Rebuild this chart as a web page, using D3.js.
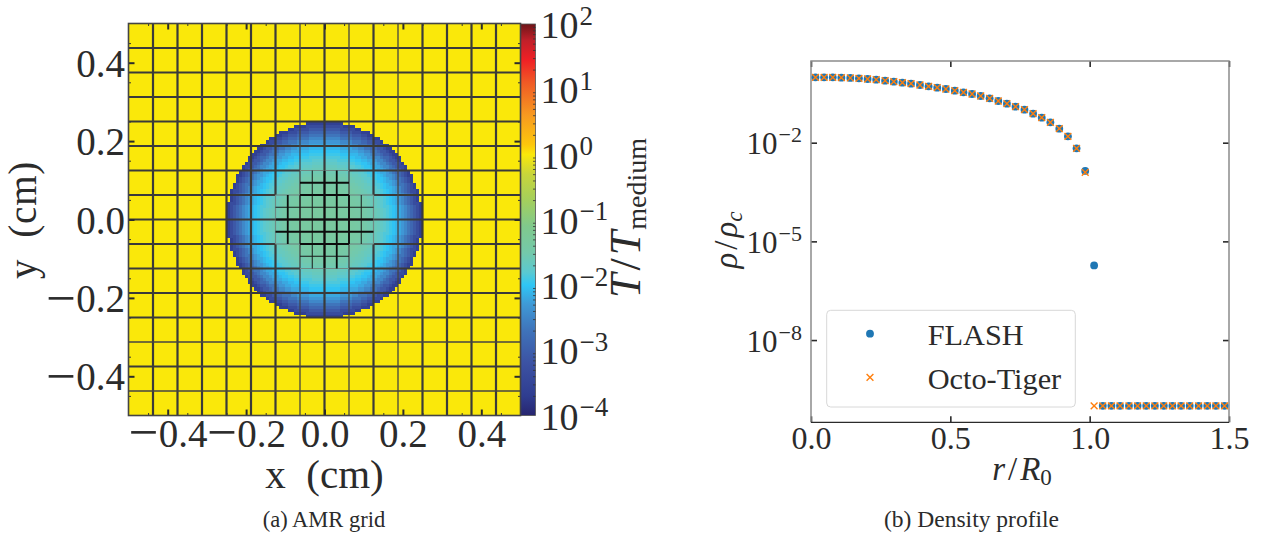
<!DOCTYPE html>
<html><head><meta charset="utf-8">
<script src="https://cdn.jsdelivr.net/npm/d3@7"></script>
<style>
html,body{margin:0;padding:0;background:#fff;overflow:hidden}
text{font-family:"Liberation Serif",serif;fill:#2b2b2b}
</style></head><body>
<svg id="c" width="1262" height="538" xmlns="http://www.w3.org/2000/svg"></svg>
<script>
// ---------- left panel data ----------
const fieldCells = 128;
const ambientLogT = 0;
// log10(T/Tmedium) per radial bin of width 1/128 cm
const radialLogT = [-1.35,-1.35,-1.35,-1.35,-1.35,-1.36,-1.36,-1.37,-1.38,-1.39,-1.41,-1.43,-1.45,-1.48,-1.52,-1.56,
                    -1.61,-1.66,-1.72,-1.79,-1.86,-1.94,-2.02,-2.10,-2.20,-2.32,-2.48,-2.68,-2.88,-3.10,-3.34,-3.62];
const sphereRadius = 0.25;
const colorLog = [-4,-3.7,-3.2,-2.7,-2.3,-2.0,-1.8,-1.5,-1.1,-0.7,-0.3,0,0.15,0.6,1.1,1.45,1.75,2];
const colorHex = ["#27256f","#2f3d90","#3c52a3","#3f73ba","#3f99d6","#2fc6f5","#5bc9d0","#74c9aa","#80c98c","#a4cf5c","#c8d53a","#fae80a","#fdc70c","#f79a20","#f05a25","#ef2025","#c0202a","#6e1518"];
const xyTicks = [-0.4,-0.2,0,0.2,0.4];
const xyMinor = [-0.45,-0.35,-0.25,-0.15,-0.05,0.05,0.15,0.25,0.35,0.45];
const cbarExponents = [-4,-3,-2,-1,0,1,2];
const cbarMinorMultiples = [2,3,4,5,6,7,8,9];
// AMR block edges in cm: [position, start, end]
const vEdgesThick = [[-0.4375,-0.5,0.5],[-0.375,-0.5,0.5],[-0.3125,-0.5,0.5],[-0.25,-0.5,0.5],[-0.1875,-0.5,0.5],[-0.125,-0.5,-0.0625],[-0.125,0.0625,0.5],[0,-0.5,0.5],[0.125,-0.5,-0.0625],[0.125,0.0625,0.5],[0.25,-0.5,0.5],[0.3125,-0.5,0.5],[0.375,-0.5,0.5],[0.4375,-0.5,0.5]];
const vEdgesThin = [[-0.0625,-0.5,0.5],[0.0625,-0.5,0.5],[0.1875,-0.5,0.5]];
const hEdgesThick = [[-0.375,-0.5,0.5],[-0.25,-0.5,0.5],[-0.1875,-0.5,0.5],[-0.125,-0.5,-0.0625],[-0.125,0.0625,0.5],[-0.0625,-0.5,-0.125],[-0.0625,0.125,0.5],[0,-0.5,0.5],[0.0625,-0.5,-0.125],[0.0625,0.125,0.5],[0.125,-0.5,-0.0625],[0.125,0.0625,0.5],[0.1875,-0.5,0.5],[0.25,-0.5,0.5],[0.3125,-0.5,0.5],[0.375,-0.5,0.5],[0.4375,-0.5,0.5]];
const hEdgesThin = [[-0.4375,-0.5,0.5],[-0.3125,-0.5,0.5]];
const vEdgesFaint = [[-0.125,-0.0625,0.0625],[0.125,-0.0625,0.0625]];
const hEdgesFaint = [[-0.125,-0.0625,0.0625],[0.125,-0.0625,0.0625],[-0.0625,-0.125,-0.0625],[-0.0625,0.0625,0.125],[0.0625,-0.125,-0.0625],[0.0625,0.0625,0.125]];
const vEdgesFineThick = [[-0.09375,-0.0625,0.0625],[0,-0.125,0.125],[0.0625,-0.0625,0.0625],[0.03125,-0.125,0.125]];
const vEdgesFineThin = [[-0.0625,-0.0625,0.0625],[-0.03125,-0.125,0.125],[0.09375,-0.0625,0.0625]];
const hEdgesFineThick = [[0.09375,-0.0625,0.0625],[0,-0.125,0.125],[0.0625,-0.0625,0.0625],[-0.0625,-0.0625,0.0625],[-0.03125,-0.125,0.125]];
const hEdgesFineThin = [[0.03125,-0.125,0.125],[-0.09375,-0.0625,0.0625]];

// ---------- right panel data ----------
const radius = [0.016,0.047,0.078,0.109,0.141,0.172,0.203,0.234,0.266,0.297,0.328,0.359,0.391,0.422,0.453,0.484,0.516,0.547,0.578,0.609,0.641,0.672,0.703,0.734,0.766,0.797,0.828,0.859,0.891,0.922,0.953,0.984,1.016,1.047,1.078,1.109,1.141,1.172,1.203,1.234,1.266,1.297,1.328,1.359,1.391,1.422,1.453,1.484];
const flashLogRho = [-0.013,-0.013,-0.013,-0.023,-0.033,-0.043,-0.064,-0.084,-0.115,-0.145,-0.175,-0.206,-0.246,-0.287,-0.327,-0.368,-0.419,-0.469,-0.520,-0.581,-0.651,-0.733,-0.814,-0.905,-0.996,-1.118,-1.239,-1.381,-1.574,-1.806,-2.171,-2.860,-5.73,-10,-10,-10,-10,-10,-10,-10,-10,-10,-10,-10,-10,-10,-10,-10];
const octoLogRho  = [-0.013,-0.013,-0.013,-0.023,-0.033,-0.043,-0.064,-0.084,-0.115,-0.145,-0.175,-0.206,-0.246,-0.287,-0.327,-0.368,-0.419,-0.469,-0.520,-0.581,-0.651,-0.733,-0.814,-0.905,-0.996,-1.118,-1.239,-1.381,-1.574,-1.806,-2.171,-2.900,-10,-10,-10,-10,-10,-10,-10,-10,-10,-10,-10,-10,-10,-10,-10,-10];
const rTicks = [0,0.5,1,1.5];
const rhoExponents = [-2,-5,-8];
const legendNames = ["FLASH","Octo-Tiger"];

// ---------- helpers ----------
const svg = d3.select("#c");
const ink = "#2b2b2b";
function power(sel, size, supSize, rise){
  sel.each(function(d){
    const e = Math.round(Math.log10(d));
    const t = d3.select(this).text("").attr("font-size", size);
    t.append("tspan").text("10");
    t.append("tspan").attr("font-size", supSize).attr("dy", -rise).attr("dx", 1).text(String(e).replace("-", "\u2212"));
  });
}
// signed tick label with a wide minus, like the typeset original
function signedLabel(sel, size){
  sel.each(function(d){
    const t = d3.select(this).text("").attr("font-size", size);
    const s = d3.format(".1f")(Math.abs(d));
    if (d < 0) {
      t.append("tspan").attr("font-size", size * 1.36).attr("dy", size * 0.1).text("\u2212");
      t.append("tspan").attr("dy", -size * 0.1).text(s);
    } else t.text(s);
  });
}
function axisStyle(g, color, width, domain){
  g.selectAll(".tick line").attr("stroke", color).attr("stroke-width", width);
  g.select(".domain").attr("stroke", domain || "none");
}

// ---------- left panel ----------
const x = d3.scaleLinear().domain([-0.5,0.5]).range([128.5,520.5]);
const y = d3.scaleLinear().domain([-0.5,0.5]).range([415.5,23.5]);
const cbar = d3.scaleLog().domain([1e-4,1e2]).range([415.5,24]);
const colorOf = d3.scaleLinear().domain(colorLog).range(colorHex).interpolate(d3.interpolateRgb);

const cells = d3.range(fieldCells * fieldCells).map(i => {
  const cx = -0.5 + ((i % fieldCells) + 0.5) / fieldCells;
  const cy = -0.5 + (Math.floor(i / fieldCells) + 0.5) / fieldCells;
  const r = Math.hypot(cx, cy);
  return {cx, cy, v: r < sphereRadius ? radialLogT[Math.floor(r * fieldCells)] : ambientLogT};
});
const half = 0.5 / fieldCells;
svg.append("g").attr("shape-rendering","crispEdges").selectAll("rect").data(cells).join("rect")
  .attr("x", d => x(d.cx - half)).attr("y", d => y(d.cy + half))
  .attr("width", x(half) - x(-half) + 0.6).attr("height", y(-half) - y(half) + 0.6)
  .attr("fill", d => colorOf(d.v));

const grid = svg.append("g");
function edges(list, vertical, stroke, width){
  grid.append("g").selectAll("line").data(list).join("line")
    .attr("x1", d => vertical ? x(d[0]) : x(d[1]))
    .attr("x2", d => vertical ? x(d[0]) : x(d[2]))
    .attr("y1", d => vertical ? y(d[1]) : y(d[0]))
    .attr("y2", d => vertical ? y(d[2]) : y(d[0]))
    .attr("stroke", stroke).attr("stroke-width", width);
}
edges(vEdgesThick, true, "#3a3a3a", 2.2); edges(hEdgesThick, false, "#3a3a3a", 2.2);
edges(vEdgesThin, true, "#444", 1.3); edges(hEdgesThin, false, "#444", 1.3);
edges(vEdgesFaint, true, "#6f8a84", 1.2); edges(hEdgesFaint, false, "#6f8a84", 1.2);
edges(vEdgesFineThin, true, "#1a1a1a", 1); edges(hEdgesFineThin, false, "#1a1a1a", 1);
edges(vEdgesFineThick, true, "#0c0c0c", 1.8); edges(hEdgesFineThick, false, "#0c0c0c", 1.8);

// colour bar
const defs = svg.append("defs");
const grad = defs.append("linearGradient").attr("id","cb").attr("x1",0).attr("x2",0).attr("y1",1).attr("y2",0);
grad.selectAll("stop").data(colorLog).join("stop")
  .attr("offset", d => (d + 4) / 6).attr("stop-color", (d,i) => colorHex[i]);
svg.append("rect").attr("x",520.5).attr("y",24).attr("width",15).attr("height",391.5).attr("fill","url(#cb)").attr("stroke","#555").attr("stroke-width",0.8);

const cbMinor = cbarExponents.slice(0,-1).flatMap(e => cbarMinorMultiples.map(m => m * Math.pow(10, e)));
const cbMinorG = svg.append("g").attr("transform","translate(535.5,0)")
  .call(d3.axisRight(cbar).tickValues(cbMinor).tickSize(-2.5).tickFormat(""));
axisStyle(cbMinorG, "#333", 0.8);
const cbAxis = svg.append("g").attr("transform","translate(535.5,0)")
  .call(d3.axisRight(cbar).tickValues(cbarExponents.map(e => Math.pow(10,e))).tickSize(0));
axisStyle(cbAxis, "#333", 1);
cbAxis.selectAll("text").attr("x",5).attr("dy",null).attr("y",13.7).attr("text-anchor","start").attr("fill",ink)
  .call(power, 38, 27, 13.5);

// left axes
function frameAxes(gen, tx, ty, vals, size, width, color){
  const g = svg.append("g").attr("transform",`translate(${tx},${ty})`)
    .call(gen.tickValues(vals).tickSize(size).tickFormat(""));
  axisStyle(g, color, width);
  return g;
}
frameAxes(d3.axisBottom(x), 0, 415.5, xyMinor, -2.5, 1, "#333");
frameAxes(d3.axisTop(x), 0, 23.5, xyMinor, -2.5, 1, "#333");
frameAxes(d3.axisLeft(y), 128.5, 0, xyMinor, -2.5, 1, "#333");
frameAxes(d3.axisRight(y), 520.5, 0, xyMinor, -2.5, 1, "#333");
frameAxes(d3.axisTop(x), 0, 23.5, xyTicks, -6, 2, "#2b2b2b");
frameAxes(d3.axisRight(y), 520.5, 0, xyTicks, -6, 2, "#2b2b2b");
const xA = svg.append("g").attr("transform","translate(0,415.5)")
  .call(d3.axisBottom(x).tickValues(xyTicks).tickSize(-6));
axisStyle(xA, "#2b2b2b", 2);
xA.selectAll("text").attr("y",31).attr("dy",null).attr("fill",ink).call(signedLabel, 39);
const yA = svg.append("g").attr("transform","translate(128.5,0)")
  .call(d3.axisLeft(y).tickValues(xyTicks).tickSize(-6));
axisStyle(yA, "#2b2b2b", 2);
yA.selectAll("text").attr("x",-3.5).attr("dy",null).attr("y",13.5).attr("fill",ink).call(signedLabel, 39);
svg.append("rect").attr("x",128.5).attr("y",23.5).attr("width",392).attr("height",392)
  .attr("fill","none").attr("stroke","#444").attr("stroke-width",1.6);

svg.append("text").attr("x",324.5).attr("y",488).attr("text-anchor","middle").attr("font-size",41).attr("xml:space","preserve").text("x  (cm)");
svg.append("text").attr("transform","translate(36,220) rotate(-90)").attr("text-anchor","middle").attr("font-size",39).attr("letter-spacing",0.8).attr("xml:space","preserve").text("y  (cm)");
const cbLabel = svg.append("text").attr("transform","translate(640,298) rotate(-90)");
cbLabel.append("tspan").attr("font-size",44).attr("font-style","italic").text("T");
cbLabel.append("tspan").attr("font-size",44).attr("dx",3).text("/");
cbLabel.append("tspan").attr("font-size",44).attr("font-style","italic").attr("dx",3).text("T");
cbLabel.append("tspan").attr("font-size",28).attr("dy",6).attr("dx",1).text("medium");
svg.append("text").attr("x",324).attr("y",527).attr("text-anchor","middle").attr("font-size",22.5).text("(a) AMR grid");

// ---------- right panel ----------
const rx = d3.scaleLinear().domain([0,1.5]).range([811,1229]);
const ry = d3.scaleLog().domain([Math.pow(10,-10.5),Math.pow(10,0.483)]).range([422.3,61]);
const rxA = svg.append("g").attr("transform","translate(0,422.3)")
  .call(d3.axisBottom(rx).tickValues(rTicks).tickSize(-6).tickFormat(d3.format(".1f")));
axisStyle(rxA, "#2b2b2b", 1.6);
rxA.selectAll("text").attr("y",27).attr("dy",null).attr("font-size",32).attr("fill",ink);
const rhoVals = rhoExponents.map(e => Math.pow(10,e));
const ryA = svg.append("g").attr("transform","translate(811,0)")
  .call(d3.axisLeft(ry).tickValues(rhoVals).tickSize(-6));
axisStyle(ryA, "#2b2b2b", 1.6);
ryA.selectAll("text").attr("x",-9).attr("dy",null).attr("y",11).attr("fill",ink).call(power, 31, 22, 12);
frameAxes(d3.axisTop(rx), 0, 61, rTicks, -6, 1.6, "#2b2b2b");
frameAxes(d3.axisRight(ry), 1229, 0, rhoVals, -6, 1.6, "#2b2b2b");
svg.append("path").attr("d",`M${rx(0)},${ry(Math.pow(10,-10.5))}V${ry(Math.pow(10,0.483))}H${rx(1.5)}V${ry(Math.pow(10,-10.5))}`)
  .attr("fill","none").attr("stroke","#8c8c8c").attr("stroke-width",1.5);
svg.append("line").attr("x1",rx(0)).attr("x2",rx(1.5)).attr("y1",422.3).attr("y2",422.3).attr("stroke","#2b2b2b").attr("stroke-width",1.2);

const blue = "#1f77b4", orange = "#ff7f0e";
svg.append("g").selectAll("circle").data(radius).join("circle")
  .attr("cx", d => rx(d)).attr("cy", (d,i) => ry(Math.pow(10, flashLogRho[i]))).attr("r",3.9).attr("fill",blue);
const cross = "M-3.4,-3.4L3.4,3.4M-3.4,3.4L3.4,-3.4";
svg.append("g").selectAll("path").data(radius).join("path")
  .attr("transform",(d,i) => `translate(${rx(d)},${ry(Math.pow(10, octoLogRho[i]))})`)
  .attr("d",cross).attr("fill","none").attr("stroke",orange).attr("stroke-width",1.4);

// legend
svg.append("rect").attr("x",826.7).attr("y",310.3).attr("width",248.6).attr("height",96.7).attr("rx",4)
  .attr("fill","#fff").attr("fill-opacity",0.8).attr("stroke","#d8d8d8").attr("stroke-width",1);
svg.append("circle").attr("cx",870).attr("cy",333.7).attr("r",3.9).attr("fill",blue);
svg.append("path").attr("transform","translate(870,377.3)").attr("d",cross).attr("fill","none").attr("stroke",orange).attr("stroke-width",1.4);
svg.selectAll(".lg").data(legendNames).join("text").attr("class","lg")
  .attr("x",927.7).attr("y",(d,i)=> i ? 388.5 : 345).attr("font-size",30.3).text(d=>d);

const rLab = svg.append("text").attr("x",1022).attr("y",480).attr("text-anchor","middle").attr("font-size",33);
rLab.append("tspan").attr("font-style","italic").text("r");
rLab.append("tspan").attr("dx",3).text("/");
rLab.append("tspan").attr("font-style","italic").attr("dx",3).text("R");
rLab.append("tspan").attr("font-size",23).attr("dy",5).text("0");
const rhoLab = svg.append("text").attr("transform","translate(737,240) rotate(-90)").attr("text-anchor","middle").attr("font-size",33);
rhoLab.append("tspan").attr("font-style","italic").text("\u03c1");
rhoLab.append("tspan").attr("dx",3).text("/");
rhoLab.append("tspan").attr("font-style","italic").attr("dx",3).text("\u03c1");
rhoLab.append("tspan").attr("font-style","italic").attr("font-size",23).attr("dy",5).text("c");
svg.append("text").attr("x",971.5).attr("y",527).attr("text-anchor","middle").attr("font-size",23.5).text("(b) Density profile");
</script>
</body></html>
